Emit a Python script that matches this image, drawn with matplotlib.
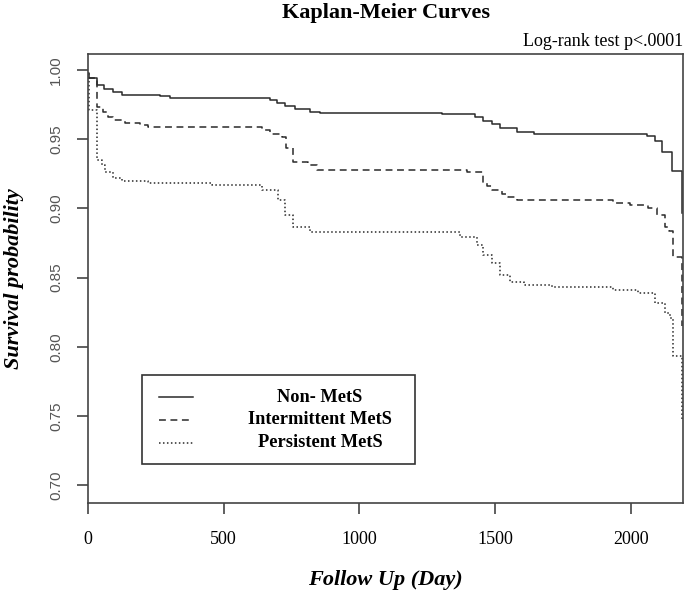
import matplotlib
matplotlib.use("Agg")
import matplotlib.pyplot as plt
from matplotlib.patches import Rectangle

# Kaplan-Meier curves, values
non_mets_t = [0, 5, 32, 59, 92, 124, 265, 302, 671, 695, 726, 763, 818, 855, 1304,
              1426, 1455, 1489, 1518, 1581, 1643, 2060, 2089, 2115, 2152, 2188]
non_mets_s = [0.998, 0.994, 0.989, 0.986, 0.984, 0.982, 0.981, 0.980, 0.978, 0.976,
              0.974, 0.972, 0.970, 0.969, 0.968, 0.966, 0.963, 0.961, 0.958, 0.955,
              0.954, 0.952, 0.949, 0.941, 0.927, 0.897]

inter_t = [0, 32, 55, 74, 92, 136, 190, 220, 640, 670, 715, 730, 755, 811, 844, 1396,
           1455, 1470, 1489, 1524, 1548, 1580, 1934, 1997, 2063, 2096, 2126, 2140,
           2155, 2188]
inter_s = [0.994, 0.973, 0.970, 0.966, 0.964, 0.962, 0.960, 0.959, 0.957, 0.954,
           0.9516, 0.944, 0.9335, 0.931, 0.928, 0.926, 0.918, 0.9165, 0.913, 0.9104,
           0.908, 0.906, 0.904, 0.9025, 0.900, 0.895, 0.8866, 0.884, 0.865, 0.815]

persist_t = [0, 3, 33, 52, 63, 92, 125, 221, 457, 641, 700, 726, 755, 818, 1371,
             1433, 1455, 1489, 1518, 1555, 1607, 1710, 1934, 2026, 2089, 2126, 2144,
             2155, 2188]
persist_s = [0.997, 0.971, 0.935, 0.931, 0.926, 0.922, 0.920, 0.918, 0.917, 0.913,
             0.906, 0.895, 0.8866, 0.883, 0.879, 0.8736, 0.8663, 0.8606, 0.852,
             0.8468, 0.8447, 0.843, 0.841, 0.839, 0.8317, 0.8244, 0.821, 0.793, 0.746]

group_names = ["Non- MetS", "Intermittent MetS", "Persistent MetS"]
x_ticks = [0, 500, 1000, 1500, 2000]
y_ticks = [0.70, 0.75, 0.80, 0.85, 0.90, 0.95, 1.00]

serif = ["Liberation Serif", "DejaVu Serif"]
line_col = "#2a2a2a"
styles = ["-", (0, (4.5, 3)), (0, (1, 1.6))]

fig = plt.figure(figsize=(6.85, 5.95), dpi=100)
ax = fig.add_axes([88 / 685, 1 - 503 / 595, 595 / 685, 449 / 595])

curves = [(non_mets_t, non_mets_s), (inter_t, inter_s), (persist_t, persist_s)]
for (t, s), ls in zip(curves, styles):
    ax.step(t, s, where="post", color=line_col, lw=1.1, linestyle=ls)

ax.set_xlim(0, 2192)
ax.set_ylim(0.687, 1.0116)

for sp in ax.spines.values():
    sp.set_color("#444444")
    sp.set_linewidth(1.2)

ax.set_xticks(x_ticks)
ax.set_yticks(y_ticks)
ax.set_xticklabels([str(v) for v in x_ticks], fontfamily=serif, fontsize=13)
ax.set_yticklabels(["%.2f" % v for v in y_ticks], rotation=90, va="center",
                   fontfamily="Liberation Sans", fontsize=11, color="#555555")
ax.tick_params(axis="x", length=8, width=1.2, color="#444444", pad=12)
ax.tick_params(axis="y", length=8, width=1.2, color="#444444", pad=10)

ax.set_xlabel("Follow Up (Day)", fontfamily=serif, fontsize=16,
              fontweight="bold", style="italic")
ax.xaxis.set_label_coords(0.5, -0.15)
ax.set_ylabel("Survival probability", fontfamily=serif, fontsize=16,
              fontweight="bold", style="italic")
ax.yaxis.set_label_coords(-0.108, 0.5)

fig.text(386 / 685, 1 - 13 / 595, "Kaplan-Meier Curves", ha="center", va="center",
         fontfamily=serif, fontsize=16, fontweight="bold")
fig.text(683 / 685, 1 - 42 / 595, "Log-rank test p<.0001", ha="right", va="center",
         fontfamily=serif, fontsize=13)

# legend box drawn by hand (R style, centred text)
ax.add_patch(Rectangle((0.0908, 0.087), 0.458, 0.198, transform=ax.transAxes,
                       fill=False, edgecolor="#333333", lw=1.2))
rows = [0.236, 0.185, 0.134]
for name, ls, yy in zip(group_names, styles, rows):
    ax.plot([0.119, 0.176], [yy, yy], transform=ax.transAxes, color=line_col,
            lw=1.1, linestyle=ls)
    ax.text(0.39, yy, name, transform=ax.transAxes, ha="center", va="center",
            fontfamily=serif, fontsize=13.2, fontweight="bold")

fig.savefig("out.png", dpi=100)
